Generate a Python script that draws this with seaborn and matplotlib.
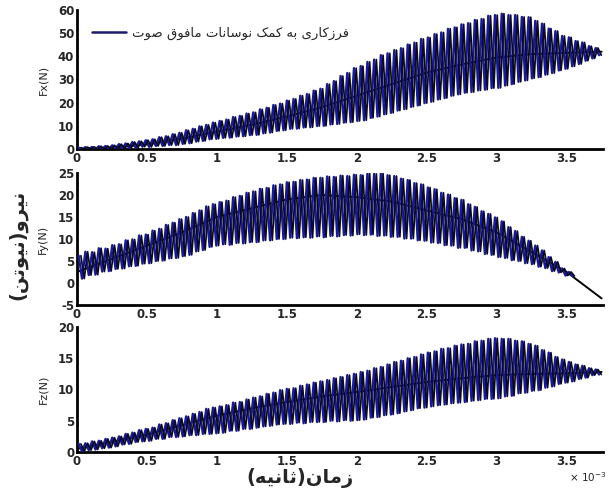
import numpy as np
import matplotlib
matplotlib.use("Agg")
import matplotlib.pyplot as plt
import matplotlib.transforms as mtransforms
import seaborn as sns

# ---------------- data (time in ms, i.e. x 10^-3 s) ----------------
period_ms = 0.048
mean_t = [0.0, 0.25, 0.5, 0.75, 1.0, 1.25, 1.5, 1.75, 2.0, 2.25, 2.5, 2.75, 3.0, 3.25, 3.5, 3.75]

fx_mean = [0.0, 0.5, 2.0, 4.5, 7.5, 10.5, 14.0, 18.0, 23.0, 28.0, 33.0, 36.5, 39.5, 41.0, 41.5, 42.0]
fy_mean = [2.5, 5.5, 8.5, 11.5, 15.0, 17.0, 19.0, 20.0, 19.5, 18.5, 16.5, 14.5, 11.5, 7.0, 2.5, -3.5]
fz_mean = [0.5, 1.6, 2.8, 4.3, 5.8, 7.0, 8.0, 8.9, 9.6, 10.4, 11.2, 11.8, 12.3, 12.5, 12.6, 12.8]

fx_upper = [0.6, 0.8, 0.9, 1.2, 1.3, 1.6, 2.1, 2.4, 3.0, 3.3, 3.8, 4.2, 5.1, 5.5, 6.4,
            7.0, 8.1, 8.7, 9.8, 10.4, 11.4, 12.1, 12.7, 13.8, 14.3, 15.3, 15.8, 17.1, 17.8, 19.0, 19.6,
            20.9, 21.6, 23.0, 23.7, 25.2, 26.0, 28.0, 29.3, 31.5, 32.8, 34.9, 35.8, 37.6, 38.6, 40.5, 41.3,
            42.7, 43.5, 45.1, 45.9, 47.5, 48.1, 49.6, 50.3, 51.9, 52.5, 53.8, 54.3, 55.7, 56.1, 57.5,
            57.8, 58.4, 57.8, 57.8, 57.0, 56.9, 55.3, 54.1, 52.0, 50.9, 48.8, 48.2, 46.6, 46.0, 44.4, 43.6]
fx_lower = [-0.2, -0.1, -0.2, 0.0, 0.0, 0.2, 0.2, 0.6, 0.6, 1.0, 0.9, 1.3, 1.3, 1.7, 1.7,
            2.2, 2.5, 3.2, 3.5, 4.2, 4.4, 4.8, 4.9, 5.4, 5.5, 6.0, 6.1, 6.8, 7.1, 7.8, 8.1,
            8.7, 8.8, 9.3, 9.4, 9.9, 10.0, 10.6, 10.8, 11.4, 11.6, 12.1, 12.4, 13.4, 14.0, 15.0, 15.6,
            16.6, 17.2, 18.2, 18.8, 19.8, 20.4, 21.4, 22.0, 23.0, 23.6, 24.3, 24.6, 25.3, 25.6, 26.3,
            26.4, 27.4, 28.0, 29.0, 29.6, 30.5, 31.0, 32.1, 32.8, 33.9, 34.6, 35.7, 36.7, 38.1, 39.1, 40.5]

fy_upper = [6.2, 7.1, 7.0, 7.9, 7.8, 8.6, 8.8, 9.7, 9.9, 10.8, 11.0, 11.9, 12.3, 13.2, 13.7,
            14.5, 15.0, 15.9, 16.5, 17.4, 17.9, 18.4, 18.7, 19.5, 19.8, 20.5, 20.8, 21.4, 21.6, 22.2, 22.4,
            22.9, 23.0, 23.4, 23.5, 23.9, 23.9, 24.2, 24.1, 24.4, 24.3, 24.6, 24.5, 24.9, 24.8, 24.9, 24.5,
            24.3, 23.7, 23.4, 22.7, 22.4, 21.7, 21.3, 20.5, 20.1, 19.3, 18.9, 17.9, 17.3, 16.3, 15.7,
            14.9, 14.0, 12.7, 11.8, 10.5, 9.6, 8.5, 7.4, 5.9, 4.8, 3.3, 2.5]
fy_lower = [1.0, 1.8, 1.9, 2.6, 2.7, 3.2, 3.3, 3.8, 3.9, 4.4, 4.5, 5.0, 5.1, 5.6, 5.7,
            6.1, 6.4, 7.2, 7.5, 8.2, 8.5, 8.8, 8.7, 9.1, 9.0, 9.3, 9.3, 9.7, 9.7, 10.0, 10.0,
            10.3, 10.2, 10.4, 10.3, 10.6, 10.4, 10.7, 10.6, 10.9, 10.8, 11.1, 10.9, 11.0, 10.7, 10.8, 10.5,
            10.5, 10.1, 10.1, 9.7, 9.6, 9.2, 9.1, 8.6, 8.5, 8.0, 8.0, 7.4, 7.2, 6.6, 6.4,
            5.9, 5.7, 5.2, 5.0, 4.5, 4.3, 3.7, 3.4, 2.7, 2.4, 1.7, 1.6]

fz_upper = [1.3, 1.4, 1.7, 1.8, 2.1, 2.3, 2.5, 2.9, 3.1, 3.5, 3.7, 3.9, 4.4, 4.6, 5.1,
            5.4, 5.7, 6.1, 6.4, 6.9, 7.1, 7.3, 7.5, 7.9, 8.0, 8.4, 8.7, 8.9, 9.3, 9.5, 9.9,
            10.1, 10.2, 10.6, 10.8, 11.1, 11.3, 11.5, 11.8, 12.0, 12.3, 12.5, 12.8, 13.0, 13.4, 13.6, 14.0,
            14.4, 14.6, 15.0, 15.2, 15.6, 15.9, 16.1, 16.5, 16.6, 17.0, 17.2, 17.3, 17.7, 17.8, 18.1,
            18.2, 18.1, 18.1, 17.8, 17.7, 17.3, 17.0, 16.3, 15.9, 15.2, 14.8, 14.4, 14.0, 13.8, 13.4, 13.2]
fz_lower = [0.1, 0.3, 0.4, 0.6, 0.7, 0.9, 1.2, 1.3, 1.6, 1.7, 1.8, 2.1, 2.1, 2.4, 2.4,
            2.5, 2.7, 2.7, 2.9, 2.9, 3.0, 3.1, 3.4, 3.4, 3.7, 3.7, 3.9, 4.1, 4.2, 4.4, 4.5,
            4.5, 4.7, 4.6, 4.8, 4.8, 4.8, 5.0, 4.9, 5.1, 5.0, 5.1, 5.2, 5.5, 5.6, 5.9, 6.0,
            6.2, 6.5, 6.7, 7.0, 7.1, 7.3, 7.5, 7.6, 7.8, 7.9, 8.0, 8.2, 8.3, 8.5, 8.5,
            8.6, 8.9, 9.0, 9.4, 9.5, 9.8, 9.9, 10.3, 10.5, 10.9, 11.1, 11.3, 11.7, 11.9, 12.3, 12.4]

panel_labels = ["Fx(N)", "Fy(N)", "Fz(N)"]
x_ticks = [0, 0.5, 1, 1.5, 2, 2.5, 3, 3.5]
x_tick_labels = ["0", "0.5", "1", "1.5", "2", "2.5", "3", "3.5"]
y_ticks = [[0, 10, 20, 30, 40, 50, 60], [-5, 0, 5, 10, 15, 20, 25], [0, 5, 10, 15, 20]]
legend_label = "فرزکاری به کمک نوسانات مافوق صوت"
y_title = "نیرو(نیوتن)"
x_title = "زمان(ثانیه)"

# ---------------- simple Persian shaping for matplotlib ----------------
FORMS = {
    'ا': ('\uFE8D', '\uFE8E', None, None),
    'ب': ('\uFE8F', '\uFE90', '\uFE91', '\uFE92'),
    'ت': ('\uFE95', '\uFE96', '\uFE97', '\uFE98'),
    'ث': ('\uFE99', '\uFE9A', '\uFE9B', '\uFE9C'),
    'ر': ('\uFEAD', '\uFEAE', None, None),
    'ز': ('\uFEAF', '\uFEB0', None, None),
    'س': ('\uFEB1', '\uFEB2', '\uFEB3', '\uFEB4'),
    'ص': ('\uFEB9', '\uFEBA', '\uFEBB', '\uFEBC'),
    'ف': ('\uFED1', '\uFED2', '\uFED3', '\uFED4'),
    'ق': ('\uFED5', '\uFED6', '\uFED7', '\uFED8'),
    'م': ('\uFEE1', '\uFEE2', '\uFEE3', '\uFEE4'),
    'ن': ('\uFEE5', '\uFEE6', '\uFEE7', '\uFEE8'),
    'ه': ('\uFEE9', '\uFEEA', '\uFEEB', '\uFEEC'),
    'و': ('\uFEED', '\uFEEE', None, None),
    '\u06A9': ('\uFB8E', '\uFB8F', '\uFB90', '\uFB91'),
    '\u06CC': ('\uFBFC', '\uFBFD', '\uFBFE', '\uFBFF'),
}


def shape_fa(text):
    text = text.replace('\u0643', '\u06A9').replace('\u064A', '\u06CC')
    out = []
    for i, ch in enumerate(text):
        if ch not in FORMS:
            out.append(ch)
            continue
        f = FORMS[ch]
        prev = text[i - 1] if i > 0 else ''
        nxt = text[i + 1] if i + 1 < len(text) else ''
        cp = prev in FORMS and FORMS[prev][2] is not None
        cn = f[2] is not None and nxt in FORMS
        if cp and cn:
            out.append(f[3])
        elif cp:
            out.append(f[1])
        elif cn:
            out.append(f[2])
        else:
            out.append(f[0])
    vis = ''.join(reversed(out))
    return vis.translate(str.maketrans({'(': ')', ')': '('}))


# ---------------- figure ----------------
sns.set_style("white")
plt.rcParams['font.family'] = ['DejaVu Sans']

W, H = 609, 492
fig = plt.figure(figsize=(W / 100, H / 100), dpi=100)

# axes boxes in pixel: (left, top, right, bottom)
boxes = [(77, 10, 603, 149), (77, 173, 603, 305), (77, 327, 603, 452)]
ylims = [(0, 60), (-5, 25), (0, 20)]
means = [fx_mean, fy_mean, fz_mean]
uppers = [fx_upper, fy_upper, fz_upper]
lowers = [fx_lower, fy_lower, fz_lower]

blue = '#1818a8'
for i in range(3):
    l, t, r, b = boxes[i]
    ax = fig.add_axes([l / W, 1 - b / H, (r - l) / W, (b - t) / H])
    n = len(uppers[i])
    k = np.arange(n)
    t_osc = np.column_stack([(k + 0.25) * period_ms, (k + 0.75) * period_ms]).ravel()
    y_osc = np.column_stack([uppers[i], lowers[i]]).ravel()

    sns.lineplot(x=mean_t, y=means[i], ax=ax, color='black', lw=1.4,
                 sort=False, estimator=None, zorder=2)
    sns.lineplot(x=t_osc, y=y_osc, ax=ax, color=blue, lw=1.7, sort=False,
                 estimator=None, zorder=3,
                 label=shape_fa(legend_label) if i == 0 else None,
                 legend=(i == 0))
    # dark trace of the same signal, drawn with a small horizontal offset
    sns.lineplot(x=t_osc, y=y_osc, ax=ax, color='#0c0c14', lw=1.25, sort=False,
                 estimator=None, zorder=4, legend=False)
    ax.lines[-1].set_transform(mtransforms.offset_copy(ax.transData, fig=fig, x=1.6, y=0, units='points'))

    ax.set_xlim(0, 3.76)
    ax.set_ylim(*ylims[i])
    ax.set_xticks(x_ticks)
    ax.set_xticklabels(x_tick_labels)
    ax.set_yticks(y_ticks[i])
    ax.set_yticklabels([str(v) for v in y_ticks[i]])
    ax.tick_params(direction='in', length=4, width=1.5, labelsize=8.5, pad=2)
    plt.setp(ax.get_xticklabels() + ax.get_yticklabels(), fontweight='bold')
    for s in ['top', 'right']:
        ax.spines[s].set_visible(False)
    for s in ['left', 'bottom']:
        ax.spines[s].set_linewidth(2)
        ax.spines[s].set_color('black')
    ax.set_ylabel(panel_labels[i], fontsize=8)
    ax.yaxis.set_label_coords((48 - l) / (r - l), 0.5)
    ax.set_xlabel('')
    ax.grid(False)
    ax.set_facecolor('none')

    if i == 0:
        leg = ax.legend(loc='center left', bbox_to_anchor=(15 / 526, (149 - 33) / 139),
                        frameon=False, borderpad=0, borderaxespad=0,
                        handlelength=2.6, handletextpad=0.4, fontsize=9.5)
        for line in leg.get_lines():
            line.set_color('#1c1c6a')
            line.set_linewidth(1.8)

fig.text(18 / W, 1 - 245 / H, shape_fa(y_title), rotation=90, fontsize=14,
         fontweight='bold', ha='center', va='center')
fig.text(300 / W, 1 - 478 / H, shape_fa(x_title), fontsize=14,
         fontweight='bold', ha='center', va='center')
fig.text(607 / W, 1 - 477 / H, r'$\times\ 10^{-3}$', fontsize=7.5,
         fontweight='bold', ha='right', va='center')

fig.savefig('out.png', dpi=100)
